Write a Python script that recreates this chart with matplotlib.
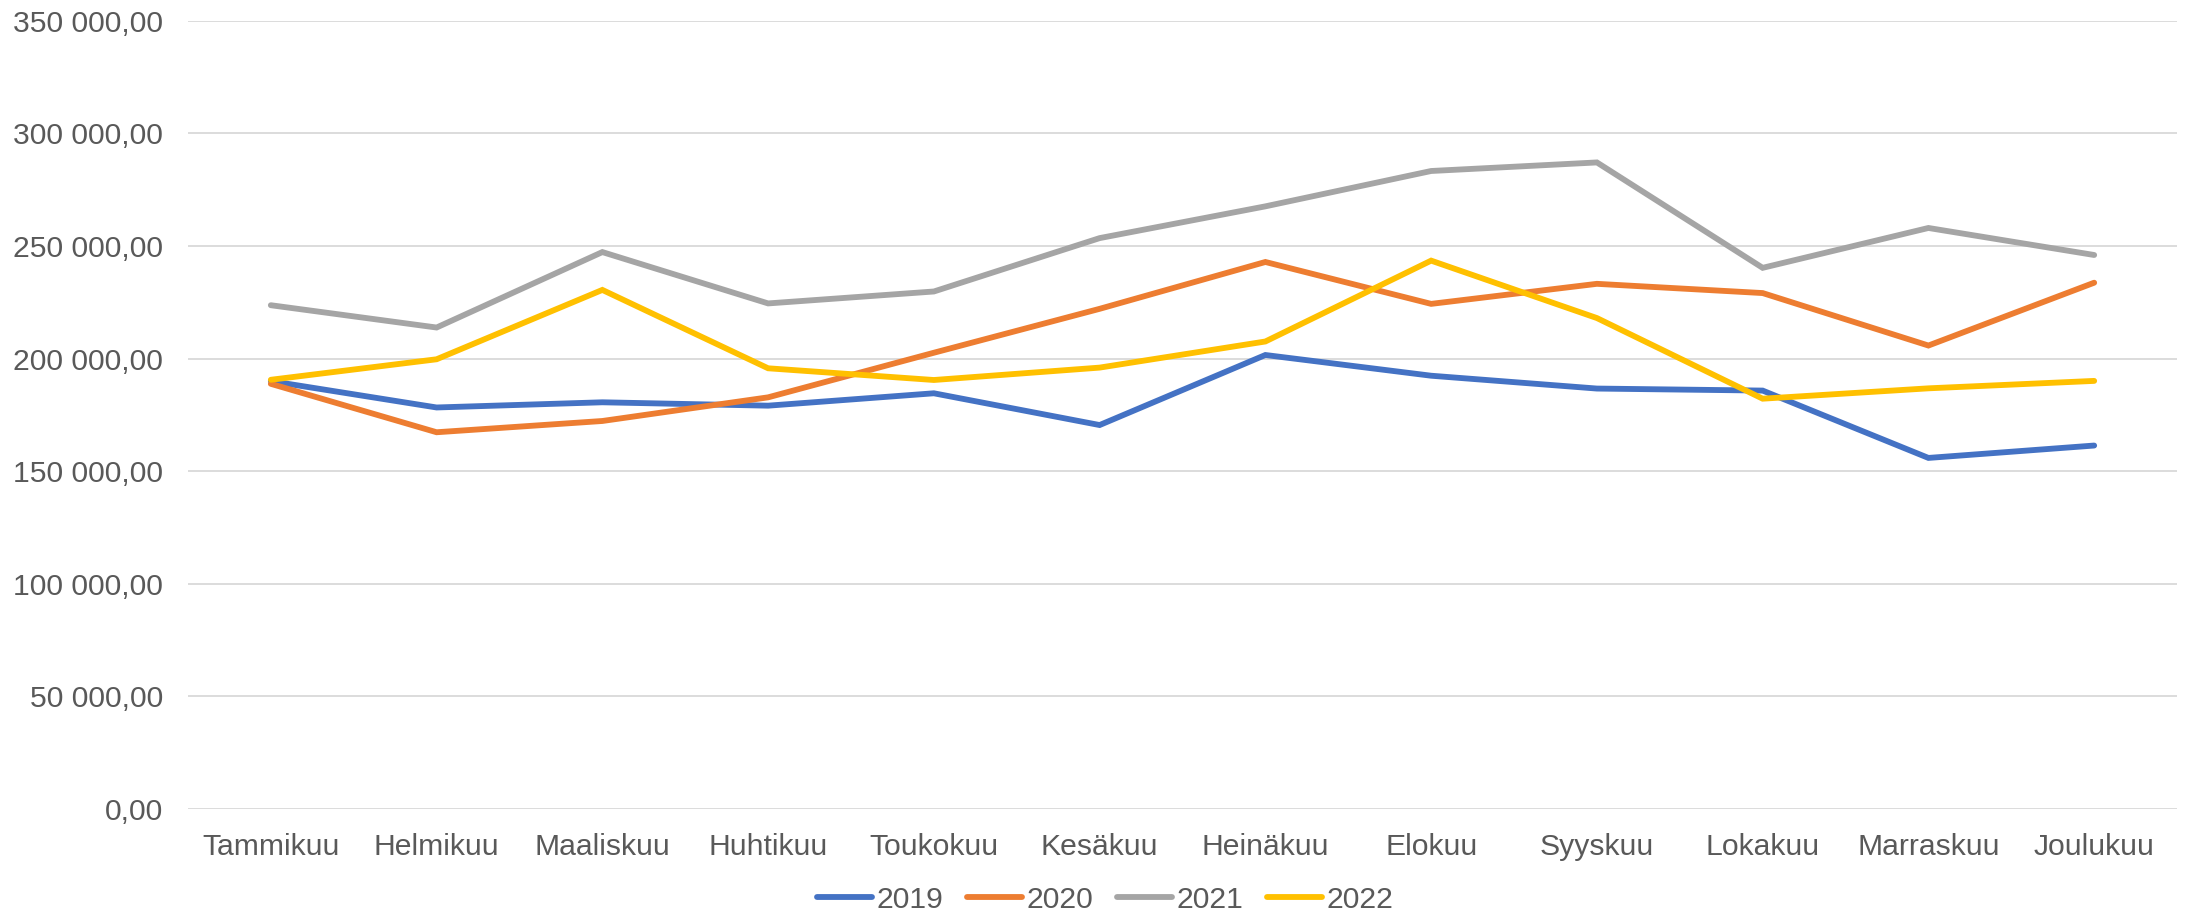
import matplotlib
matplotlib.use("Agg")
import matplotlib.pyplot as plt
from matplotlib.ticker import FuncFormatter

months = ["Tammikuu", "Helmikuu", "Maaliskuu", "Huhtikuu", "Toukokuu", "Kesäkuu",
          "Heinäkuu", "Elokuu", "Syyskuu", "Lokakuu", "Marraskuu", "Joulukuu"]
v2019 = [190000, 178300, 180600, 179100, 184600, 170500, 201600, 192400, 186700, 185800, 155900, 161400]
v2020 = [188800, 167300, 172300, 182800, 202600, 222100, 242900, 224300, 233200, 229100, 205800, 233700]
v2021 = [223700, 213800, 247300, 224500, 229800, 253500, 267600, 283300, 287100, 240300, 258000, 246000]
v2022 = [190600, 199700, 230500, 195700, 190500, 196000, 207600, 243500, 218000, 182200, 186800, 190100]
series_names = ["2019", "2020", "2021", "2022"]
colors = ["#4472C4", "#ED7D31", "#A5A5A5", "#FFC000"]
yticks = [0, 50000, 100000, 150000, 200000, 250000, 300000, 350000]

plt.rcParams['font.family'] = ['Liberation Sans', 'DejaVu Sans']

fig = plt.figure(figsize=(21.88, 9.15), dpi=100)
ax = fig.add_axes([0.0859, 0.1158, 0.9091, 0.8615])

x = list(range(len(months)))
for vals, name, c in zip([v2019, v2020, v2021, v2022], series_names, colors):
    ax.plot(x, vals, color=c, linewidth=4.2, label=name, solid_capstyle='round', solid_joinstyle='miter')

ax.set_xlim(-0.5, len(months) - 0.5)
ax.set_ylim(0, 350000)
ax.set_yticks(yticks)

def fmt(v, pos):
    s = f"{v:,.2f}".replace(",", " ").replace(".", ",")
    return s
ax.yaxis.set_major_formatter(FuncFormatter(fmt))
ax.set_xticks(x)
ax.set_xticklabels(months)

ax.grid(axis='y', color='#D9D9D9', linewidth=1.3)
ax.set_axisbelow(True)
for s in ax.spines.values():
    s.set_visible(False)
ax.tick_params(axis='both', length=0, labelsize=21.7, colors='#595959')
ax.tick_params(axis='y', pad=18)
ax.tick_params(axis='x', pad=17)

fig.legend(loc='center', bbox_to_anchor=(0.505, 0.0164), ncol=4, frameon=False,
           fontsize=21.7, handlelength=1.83, handletextpad=0.15, columnspacing=0.78,
           labelcolor='#595959', borderpad=0.0, borderaxespad=0.0)

fig.savefig("out.png", dpi=100, facecolor='white')
